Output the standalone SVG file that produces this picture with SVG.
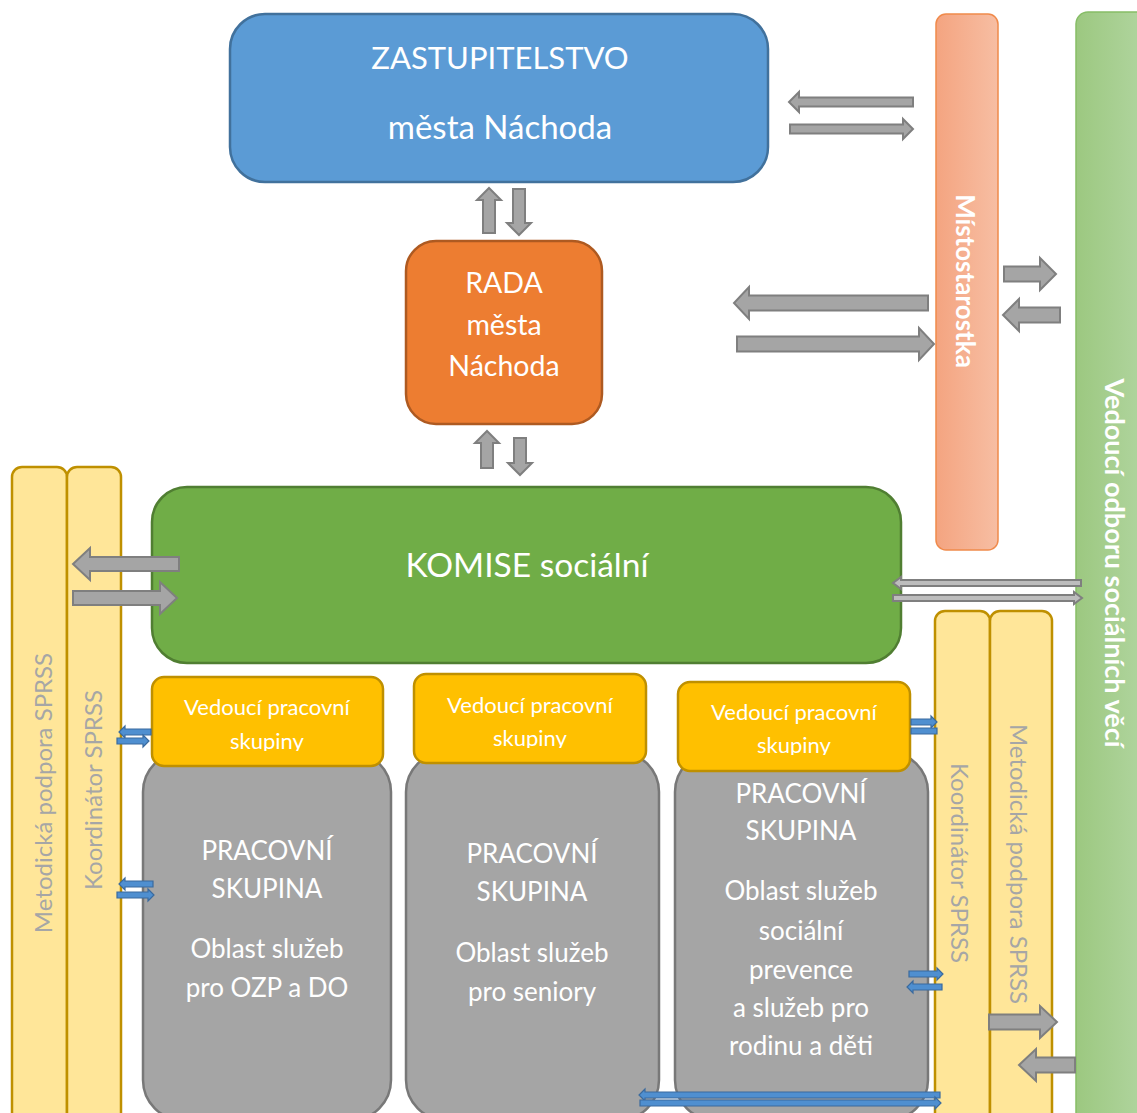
<svg xmlns="http://www.w3.org/2000/svg" width="1137" height="1113" viewBox="0 0 1137 1113">
<defs>
<linearGradient id="gOrange" x1="0" y1="0" x2="1" y2="0"><stop offset="0" stop-color="#F4A480"/><stop offset="1" stop-color="#F7BEA3"/></linearGradient>
<linearGradient id="gGreen" x1="0" y1="0" x2="1" y2="0"><stop offset="0" stop-color="#9CC880"/><stop offset="1" stop-color="#B4D7A4"/></linearGradient>
<clipPath id="c1"><rect x="150" y="670" width="240" height="81"/></clipPath>
<clipPath id="c2"><rect x="410" y="668" width="240" height="80"/></clipPath>
<clipPath id="c3"><rect x="675" y="676" width="240" height="79"/></clipPath>
</defs>
<style>
text{font-family:Lato,"Noto Sans","DejaVu Sans",sans-serif;fill:#FFFFFF;text-anchor:middle}
.col{fill:#FFE699;stroke:#BF9000;stroke-width:2.5}
.coltxt{fill:#A6A6A6;font-size:24px}
.gold{fill:#FFC000;stroke:#BF9000;stroke-width:2.5}
.goldtxt{font-size:22px}
.gray{fill:#A5A5A5;stroke:#787878;stroke-width:2.5}
.graytxt{font-size:26px}
.ga{fill:#A5A5A5;stroke:#7F7F7F;stroke-width:2}
.gt{fill:#BDBDBD;stroke:#7F7F7F;stroke-width:2}
.ba{fill:#4F8FD0;stroke:#3A6A9E;stroke-width:1.2}
</style>
<rect width="1137" height="1113" fill="#FFFFFF"/>

<g id="vedouci-odboru">
<rect x="1076" y="12" width="80" height="1120" rx="12" fill="url(#gGreen)" stroke="#86BD66" stroke-width="1.5"/>
<text transform="translate(1105,563) rotate(90)" style="font-size:27px;font-weight:bold">Vedoucí odboru sociálních věcí</text>
</g>

<g id="mistostarostka">
<rect x="936" y="14" width="62" height="536" rx="10" fill="url(#gOrange)" stroke="#F08A4B" stroke-width="1.5"/>
<text transform="translate(956,281) rotate(90)" style="font-size:26px;font-weight:bold">Místostarostka</text>
</g>

<g id="zastupitelstvo">
<rect x="230" y="14" width="538" height="168" rx="35" fill="#5B9BD5" stroke="#41719C" stroke-width="2.5"/>
<text x="500" y="69" style="font-size:31px">ZASTUPITELSTVO</text>
<text x="500" y="139" style="font-size:33px">města Náchoda</text>
</g>

<g id="rada">
<rect x="406" y="241" width="196" height="183" rx="30" fill="#ED7D31" stroke="#AE5A21" stroke-width="2.5"/>
<text x="504" y="293" style="font-size:28.5px">RADA</text>
<text x="504" y="335" style="font-size:28.5px">města</text>
<text x="504" y="376" style="font-size:28.5px">Náchoda</text>
</g>

<g id="metodicka-levy">
<rect class="col" x="12" y="467" width="55" height="670" rx="10"/>
<text class="coltxt" transform="translate(51.5,793) rotate(-90)">Metodická podpora SPRSS</text>
</g>
<g id="koordinator-levy">
<rect class="col" x="67" y="467" width="54" height="670" rx="10"/>
<text class="coltxt" transform="translate(101.5,790) rotate(-90)">Koordinátor SPRSS</text>
</g>

<g id="komise">
<rect x="152" y="487" width="749" height="176" rx="35" fill="#70AD47" stroke="#507E32" stroke-width="2.5"/>
<text x="527" y="577" style="font-size:33.5px">KOMISE sociální</text>
</g>

<g id="koordinator-pravy">
<rect class="col" x="935" y="611" width="55" height="530" rx="10"/>
<text class="coltxt" transform="translate(951,863) rotate(90)">Koordinátor SPRSS</text>
</g>
<g id="metodicka-pravy">
<rect class="col" x="990" y="611" width="62" height="530" rx="10"/>
<text class="coltxt" transform="translate(1010,864) rotate(90)">Metodická podpora SPRSS</text>
</g>

<g id="skupina-ozp">
<rect class="gray" x="143" y="752" width="248" height="368" rx="40"/>
<text class="graytxt" x="267" y="860">PRACOVNÍ</text>
<text class="graytxt" x="267" y="898">SKUPINA</text>
<text class="graytxt" x="267" y="958">Oblast služeb</text>
<text class="graytxt" x="267" y="997">pro OZP a DO</text>
</g>
<g id="skupina-seniori">
<rect class="gray" x="406" y="752" width="253" height="368" rx="40"/>
<text class="graytxt" x="532" y="863">PRACOVNÍ</text>
<text class="graytxt" x="532" y="901">SKUPINA</text>
<text class="graytxt" x="532" y="962">Oblast služeb</text>
<text class="graytxt" x="532" y="1001">pro seniory</text>
</g>
<g id="skupina-prevence">
<rect class="gray" x="675" y="752" width="253" height="368" rx="40"/>
<text class="graytxt" x="801" y="803">PRACOVNÍ</text>
<text class="graytxt" x="801" y="840">SKUPINA</text>
<text class="graytxt" x="801" y="900">Oblast služeb</text>
<text class="graytxt" x="801" y="940">sociální</text>
<text class="graytxt" x="801" y="979">prevence</text>
<text class="graytxt" x="801" y="1017">a služeb pro</text>
<text class="graytxt" x="801" y="1055">rodinu a děti</text>
</g>

<g id="vedouci-ozp">
<rect class="gold" x="152" y="677" width="231" height="89" rx="12"/>
<g clip-path="url(#c1)"><text class="goldtxt" x="267" y="715">Vedoucí pracovní</text><text class="goldtxt" x="267" y="749">skupiny</text></g>
</g>
<g id="vedouci-seniori">
<rect class="gold" x="414" y="674" width="232" height="89" rx="12"/>
<g clip-path="url(#c2)"><text class="goldtxt" x="530" y="713">Vedoucí pracovní</text><text class="goldtxt" x="530" y="746">skupiny</text></g>
</g>
<g id="vedouci-prevence">
<rect class="gold" x="678" y="682" width="232" height="89" rx="12"/>
<g clip-path="url(#c3)"><text class="goldtxt" x="794" y="720">Vedoucí pracovní</text><text class="goldtxt" x="794" y="753">skupiny</text></g>
</g>

<g id="connectors">
<polygon class="ga" points="913,97.5 799,97.5 799,92 789,102 799,112 799,106.5 913,106.5"/>
<polygon class="ga" points="790,124.5 903,124.5 903,119 913,129 903,139 903,133.5 790,133.5"/>
<polygon class="ga" points="928,295.5 749,295.5 749,287 734,303 749,319 749,310.5 928,310.5"/>
<polygon class="ga" points="737,336.5 919,336.5 919,328 934,344 919,360 919,351.5 737,351.5"/>
<polygon class="ga" points="1004,266.5 1040,266.5 1040,258 1056,274 1040,290 1040,281.5 1004,281.5"/>
<polygon class="ga" points="1060,307.5 1019,307.5 1019,299 1003,315 1019,331 1019,322.5 1060,322.5"/>
<polygon class="ga" points="483,233 483,200 477,200 489,188 501,200 495,200 495,233"/>
<polygon class="ga" points="513,189 525,189 525,223 531,223 519,235 507,223 513,223"/>
<polygon class="ga" points="481,468 481,443 475,443 487,431 499,443 493,443 493,468"/>
<polygon class="ga" points="514,438 526,438 526,463 532,463 520,475 508,463 514,463"/>
<polygon class="ga" points="179,557 90,557 90,548 73,564 90,580 90,571 179,571"/>
<polygon class="ga" points="73,591 160,591 160,582 177,598 160,614 160,605 73,605"/>
<polygon class="gt" points="1081,580 901,580 901,577 893,583 901,589 901,586 1081,586"/>
<polygon class="gt" points="893,595 1074,595 1074,592 1082,598 1074,604 1074,601 893,601"/>
<polygon class="ga" points="989,1014.5 1040,1014.5 1040,1006 1057,1022 1040,1038 1040,1029.5 989,1029.5"/>
<polygon class="ga" points="1075,1057.5 1036,1057.5 1036,1049 1019,1065 1036,1081 1036,1072.5 1075,1072.5"/>
<polygon class="ba" points="151,729 125,729 125,726 119,732 125,738 125,735 151,735"/>
<polygon class="ba" points="117,738 143,738 143,735 149,741 143,747 143,744 117,744"/>
<polygon class="ba" points="153,881 125,881 125,878 119,884 125,890 125,887 153,887"/>
<polygon class="ba" points="117,892 148,892 148,889 154,895 148,901 148,898 117,898"/>
<polygon class="ba" points="911,719 931,719 931,716 937,722 931,728 931,725 911,725"/>
<polygon class="ba" points="911,728 937,728 937,734 911,734"/>
<polygon class="ba" points="909,971 937,971 937,968 943,974 937,980 937,977 909,977"/>
<polygon class="ba" points="942,984 913,984 913,981 907,987 913,993 913,990 942,990"/>
<polygon class="ba" points="940,1092 645,1092 645,1089 639,1095 645,1101 645,1098 940,1098"/>
<polygon class="ba" points="640,1100 935,1100 935,1097 941,1103 935,1109 935,1106 640,1106"/>
</g>
</svg>
